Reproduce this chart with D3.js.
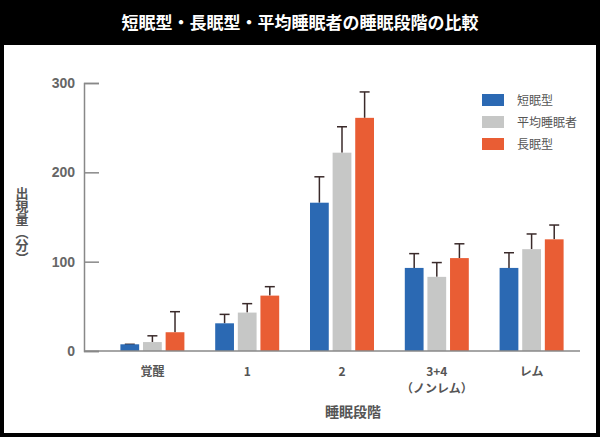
<!DOCTYPE html>
<html><head><meta charset="utf-8">
<script src="https://cdn.jsdelivr.net/npm/d3@7"></script>
<style>body{margin:0;background:#000}svg{display:block}</style>
</head><body><div id="chart"></div>
<script>
const W = 600, H = 437;
const stages = ["覚醒", "1", "2", "3+4", "レム"];
const series = ["短眠型", "平均睡眠者", "長眠型"];
const colors = ["#2b69b3", "#c6c7c6", "#e95d34"];
const shortVals = [7.5, 31, 166, 93, 93];
const shortErr  = [7.5, 41, 195, 109, 110];
const avgVals   = [10, 43, 222, 83, 114];
const avgErr    = [17, 53, 251, 99, 131];
const longVals  = [21, 62, 261, 104, 125];
const longErr   = [44, 72, 290, 120, 141];
const yTicks = [0, 100, 200, 300];

const vals = [shortVals, avgVals, longVals];
const errs = [shortErr, avgErr, longErr];
const font = "'Noto Sans CJK JP', sans-serif";

const svg = d3.select("#chart").append("svg").attr("width", W).attr("height", H);
svg.append("rect").attr("width", W).attr("height", H).attr("fill", "#000");
svg.append("rect").attr("x", 4).attr("y", 45).attr("width", W - 8).attr("height", H - 49).attr("fill", "#fff");

svg.append("text").attr("x", W / 2).attr("y", 29).attr("text-anchor", "middle")
	.attr("fill", "#fff").attr("font-family", font).attr("font-size", 17).attr("font-weight", "bold")
	.text("短眠型・長眠型・平均睡眠者の睡眠段階の比較");

const y = d3.scaleLinear().domain([0, 300]).range([351, 83]);
const x = d3.scaleBand().domain(stages).range([105, 579]);
const inner = d3.scaleBand().domain(d3.range(3)).range([-32, 32]).paddingInner(0.17);

// y axis
const yAxis = svg.append("g").attr("transform", "translate(84,0)")
	.call(d3.axisRight(y).tickValues(yTicks).tickSize(15).tickFormat(""));
yAxis.select(".domain").attr("stroke", "#888").attr("stroke-width", 1.5);
yAxis.selectAll(".tick line").attr("stroke", "#888").attr("stroke-width", 1.5);
svg.selectAll(".ylab").data(yTicks).enter().append("text")
	.attr("x", 75).attr("y", d => y(d) + 5).attr("text-anchor", "end")
	.attr("fill", "#666").attr("font-family", "'Liberation Sans', sans-serif")
	.attr("font-weight", "bold").attr("font-size", 14).text(d => d);

svg.append("text").attr("transform", "translate(22,226)")
	.attr("writing-mode", "tb").attr("text-anchor", "middle").attr("fill", "#555")
	.attr("font-family", font).attr("font-weight", "bold").attr("font-size", 13)
	.text("出現量（分）");

// bars
stages.forEach((st, i) => {
	const gx = x(st) + x.bandwidth() / 2;
	vals.forEach((v, k) => {
		const bx = gx + inner(k);
		const cx = bx + inner.bandwidth() / 2;
		svg.append("line").attr("x1", cx).attr("x2", cx).attr("y1", y(v[i])).attr("y2", y(errs[k][i]))
			.attr("stroke", "#3a2a2a").attr("stroke-width", 1.5);
		svg.append("line").attr("x1", cx - 5).attr("x2", cx + 5).attr("y1", y(errs[k][i])).attr("y2", y(errs[k][i]))
			.attr("stroke", "#3a2a2a").attr("stroke-width", 1.5);
		svg.append("rect").attr("x", bx).attr("y", y(v[i])).attr("width", inner.bandwidth())
			.attr("height", y(0) - y(v[i])).attr("fill", colors[k]);
	});
});

svg.append("line").attr("x1", 84).attr("x2", 580).attr("y1", 351).attr("y2", 351)
	.attr("stroke", "#888").attr("stroke-width", 1.5);

// x labels
svg.selectAll(".xlab").data(stages).enter().append("text")
	.attr("x", d => x(d) + x.bandwidth() / 2).attr("y", 376).attr("text-anchor", "middle")
	.attr("fill", "#555").attr("font-family", font).attr("font-weight", "bold").attr("font-size", 12)
	.text(d => d);
svg.append("text").attr("x", x("3+4") + x.bandwidth() / 2).attr("y", 393).attr("text-anchor", "middle")
	.attr("fill", "#555").attr("font-family", font).attr("font-weight", "bold").attr("font-size", 12)
	.text("（ノンレム）");
svg.append("text").attr("x", 353).attr("y", 417).attr("text-anchor", "middle")
	.attr("fill", "#555").attr("font-family", font).attr("font-weight", "bold").attr("font-size", 14)
	.text("睡眠段階");

// legend
series.forEach((s, k) => {
	const ly = 94 + k * 22;
	svg.append("rect").attr("x", 482).attr("y", ly).attr("width", 22).attr("height", 12).attr("fill", colors[k]);
	svg.append("text").attr("x", 517).attr("y", ly + 11).attr("fill", "#555")
		.attr("font-family", font).attr("font-size", 12).text(s);
});
</script></body></html>
